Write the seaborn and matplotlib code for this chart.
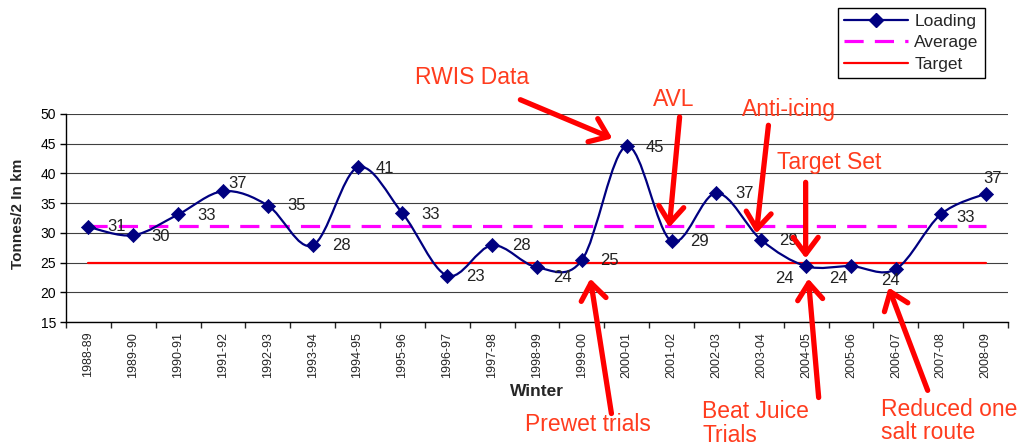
import numpy as np
import matplotlib
matplotlib.use("Agg")
import matplotlib.pyplot as plt
from matplotlib.path import Path
from matplotlib.patches import PathPatch
from matplotlib.lines import Line2D
import seaborn as sns

# data
winters = ["1988-89", "1989-90", "1990-91", "1991-92", "1992-93", "1993-94",
           "1994-95", "1995-96", "1996-97", "1997-98", "1998-99", "1999-00",
           "2000-01", "2001-02", "2002-03", "2003-04", "2004-05", "2005-06",
           "2006-07", "2007-08", "2008-09"]
loading = [31.0, 29.6, 33.1, 37.0, 34.6, 27.9, 41.0, 33.3, 22.8, 27.9, 24.2,
           25.4, 44.6, 28.6, 36.7, 28.8, 24.4, 24.4, 23.9, 33.1, 36.6]
average = 31.1
target = 25.0

notes = ["RWIS Data", "AVL", "Anti-icing", "Target Set", "Prewet trials",
         "Beat Juice\nTrials", "Reduced one\nsalt route"]

# label offsets (px, right / down) of each value label centre from its marker
label_off = [(28, 0), (27, 1), (28, 1), (15, -8), (29, 0), (29, 0), (27, 1),
             (28, 1), (28, 1), (29, 0), (25, 10), (28, 0), (28, 1), (28, 0),
             (28, 0), (27, 1), (-22, 12), (-13, 12), (-5, 11), (25, 3), (7, -15)]

# note placement in data coords: text anchor (left/top), arrow tail, arrow tip
note_pos = [
    ((7.29, 56.2), (9.63, 52.4), (11.68, 45.9)),
    ((12.58, 52.4), (13.18, 49.5), (12.95, 30.9)),
    ((14.58, 50.8), (15.16, 48.1), (14.89, 29.9)),
    ((15.36, 41.9), (15.99, 38.5), (15.99, 25.7)),
    ((9.74, -2.3), (11.66, -0.4), (11.19, 22.3)),
    ((13.69, 1.8), (16.28, 2.3), (16.05, 22.3)),
    ((17.66, 2.2), (18.71, 3.5), (17.84, 20.8)),
]

navy = "#000080"
note_col = "#ff3c1e"

sns.set_style("white")
plt.rcParams["font.family"] = ["Liberation Sans", "DejaVu Sans"]

fig = plt.figure(figsize=(10.28, 4.46), dpi=100)
ax = fig.add_axes([0.0642, 0.278, 0.9163, 0.4664])

x = np.arange(len(winters), dtype=float)
y = np.asarray(loading)

# smoothed line (Bezier through the points, like Excel's smoothed line)
pts = np.column_stack([x, y])
ext = np.vstack([pts[0], pts, pts[-1]])
verts = [tuple(pts[0])]
codes = [Path.MOVETO]
for i in range(len(pts) - 1):
    p0, p1, p2, p3 = ext[i], ext[i + 1], ext[i + 2], ext[i + 3]
    c1 = p1 + (p2 - p0) / 6
    c2 = p2 - (p3 - p1) / 6
    verts += [tuple(c1), tuple(c2), tuple(p2)]
    codes += [Path.CURVE4] * 3
ax.add_patch(PathPatch(Path(verts, codes), fill=False, ec=navy, lw=1.6, zorder=4))

sns.scatterplot(x=x, y=y, marker="D", s=52, color=navy, edgecolor=navy,
                linewidth=0.5, zorder=5, ax=ax, legend=False)

sns.lineplot(x=[x[0], x[-1]], y=[average, average], color="#ff00ff", lw=2.3,
             dashes=False, ax=ax, zorder=3)
ax.lines[-1].set_dashes((6, 3.5))
sns.lineplot(x=[x[0], x[-1]], y=[target, target], color="#ff0000", lw=1.6,
             ax=ax, zorder=3)

# value labels
for xi, yi, (dx, dy) in zip(x, y, label_off):
    ax.annotate(f"{yi:.0f}", (xi, yi), xytext=(dx * 0.72, -dy * 0.72),
                textcoords="offset points", ha="center", va="center",
                fontsize=12, color="#222222", zorder=6)

# notes with arrows
for txt, (tpos, tail, tip) in zip(notes, note_pos):
    ax.annotate("", xy=tip, xytext=tail, annotation_clip=False,
                arrowprops=dict(arrowstyle="->,head_length=0.6,head_width=0.45",
                                color="#ff0000", lw=3.8, mutation_scale=20,
                                shrinkA=0, shrinkB=0), zorder=7)
    va = "top" if "\n" in txt else "center"
    ax.text(tpos[0], tpos[1], txt, ha="left", va=va, fontsize=16.5,
            color=note_col, linespacing=1.02, clip_on=False, zorder=7)

# axes styling
ax.set_xlim(-0.5, 20.5)
ax.set_ylim(15, 50)
ax.set_yticks(range(15, 51, 5))
ax.set_xticks(x, winters, rotation=90, fontsize=9)
ax.set_xticks(np.arange(-0.5, 21, 1), minor=True)
ax.tick_params(axis="y", which="both", left=True, length=4, width=1,
               direction="out", pad=3, labelsize=10, colors="black")
ax.tick_params(axis="x", which="major", bottom=True, length=0, pad=7)
ax.tick_params(axis="x", which="minor", bottom=True, length=4, width=1,
               direction="out")
ax.yaxis.grid(True, color="#404040", lw=0.8)
ax.xaxis.grid(False)
for s in ["top", "right"]:
    ax.spines[s].set_visible(False)
for s in ["left", "bottom"]:
    ax.spines[s].set_color("black")
    ax.spines[s].set_linewidth(1)

ax.set_ylabel("Tonnes/2 In km", fontsize=11, fontweight="bold")
ax.yaxis.set_label_coords(-0.043, 0.52)
ax.set_xlabel("Winter", fontsize=12.5, fontweight="bold")
ax.xaxis.set_label_coords(0.5, -0.3)
ax.xaxis.label.set_va("top")

handles = [
    Line2D([], [], color=navy, lw=1.6, marker="D", ms=6.8),
    Line2D([], [], color="#ff00ff", lw=2.3, dashes=(6, 3.5)),
    Line2D([], [], color="#ff0000", lw=1.6),
]
leg = fig.legend(handles, ["Loading", "Average", "Target"], loc="upper left",
                 bbox_to_anchor=(0.815, 0.982), fontsize=12.5, frameon=True,
                 fancybox=False, framealpha=1, edgecolor="black",
                 handlelength=3.7, handletextpad=0.35, labelspacing=0.35,
                 borderpad=0.35, borderaxespad=0)
leg.get_frame().set_linewidth(1)

fig.savefig("out.png", dpi=100, facecolor="white")
